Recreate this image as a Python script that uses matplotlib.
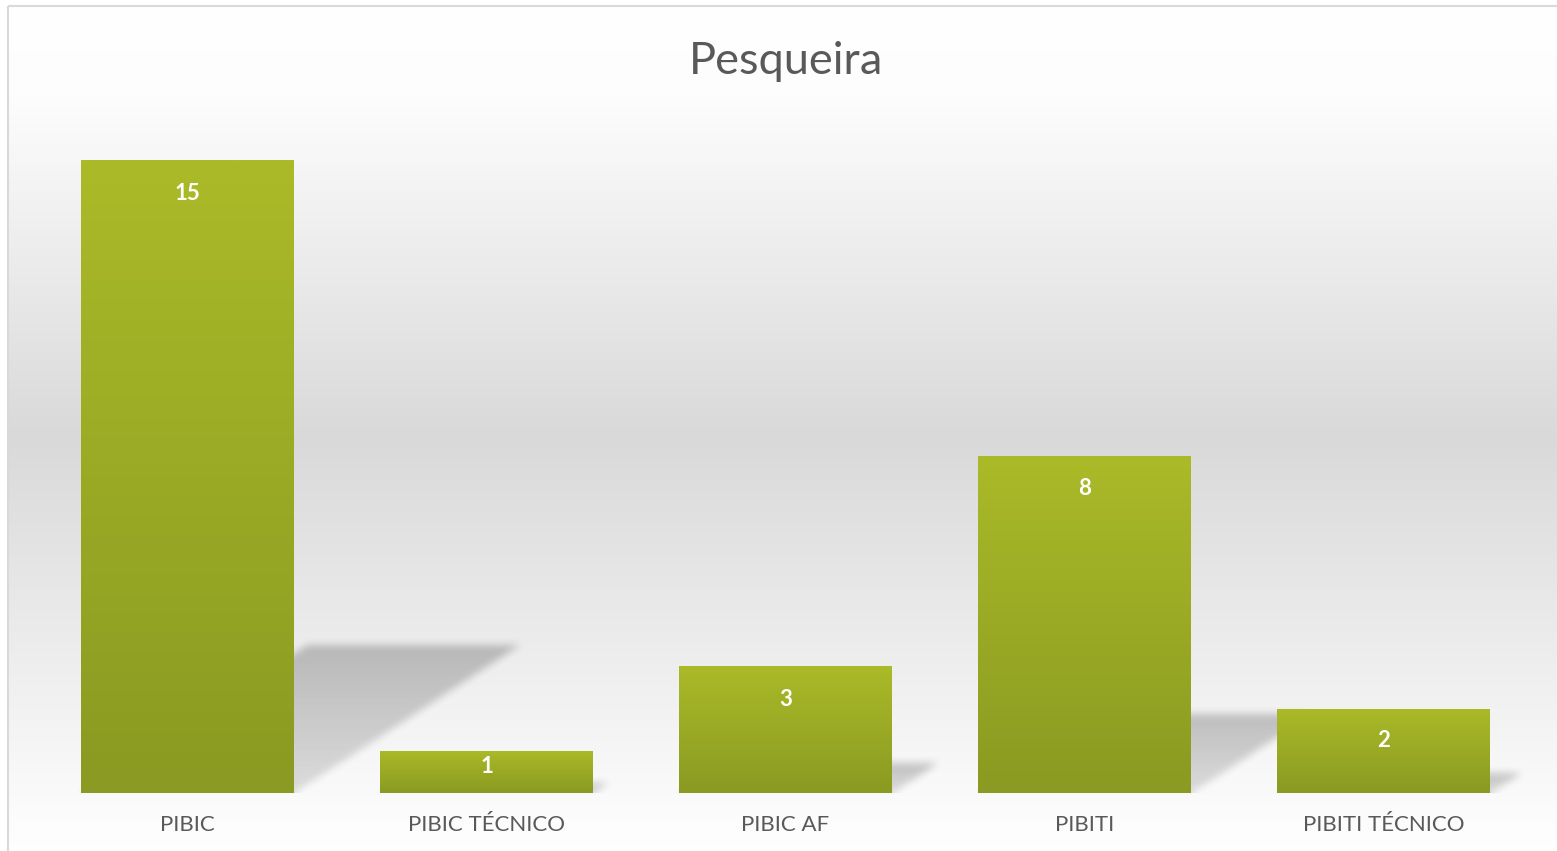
import numpy as np
import matplotlib
matplotlib.use("Agg")
import matplotlib.pyplot as plt
from matplotlib.colors import to_rgb
from matplotlib.patches import Rectangle

# ------------------------------------------------------------
# data
# ------------------------------------------------------------
categories = ["PIBIC", "PIBIC TÉCNICO", "PIBIC AF", "PIBITI", "PIBITI TÉCNICO"]
values = [15, 1, 3, 8, 2]
title = "Pesqueira"

W_PX, H_PX, DPI = 1557, 851, 100
plt.rcParams["font.family"] = ["Lato", "DejaVu Sans"]


def vgrad(stops_px, colors, n=H_PX):
    """vertical gradient image (n x 1 x 3), row 0 = top of figure"""
    yy = np.arange(n)
    rgb = np.array([to_rgb(c) for c in colors])
    img = np.stack([np.interp(yy, stops_px, rgb[:, k]) for k in range(3)], axis=-1)
    return img[:, None, :]


def box_blur(a, r):
    # separable box blur, run twice (close to gaussian)
    for _ in range(2):
        for ax_ in (0, 1):
            pad = [(0, 0), (0, 0)]
            pad[ax_] = (r + 1, r)
            c = np.cumsum(np.pad(a, pad, mode="edge"), axis=ax_)
            if ax_ == 0:
                a = (c[2 * r + 1:, :] - c[:-2 * r - 1, :]) / (2 * r + 1)
            else:
                a = (c[:, 2 * r + 1:] - c[:, :-2 * r - 1]) / (2 * r + 1)
    return a


fig = plt.figure(figsize=(W_PX / DPI, H_PX / DPI), dpi=DPI)
fig.patch.set_facecolor("white")

# ---- chart area background (gradient) + frame ----
bg = fig.add_axes([0, 0, 1, 1], zorder=-10)
bg.set_xlim(0, W_PX)
bg.set_ylim(H_PX, 0)
bg.axis("off")
bg_img = vgrad([0, 90, 430, 800, 851],
               ["#ffffff", "#fdfdfd", "#d9d9d9", "#fbfbfb", "#ffffff"])
bg.imshow(bg_img, extent=(8, W_PX + 5, H_PX + 5, 6), aspect="auto", zorder=0)
bg.add_patch(Rectangle((8, 6), W_PX, H_PX, fill=False, ec="#d9d9d9", lw=1.5, zorder=1))
bg.set_xlim(0, W_PX)
bg.set_ylim(H_PX, 0)

# ---- main axes ----
ax_l, ax_r, ax_b, ax_t = 38, 1533, 793, 118
ax = fig.add_axes([ax_l / W_PX, (H_PX - ax_b) / H_PX,
                   (ax_r - ax_l) / W_PX, (ax_b - ax_t) / H_PX])
ax.patch.set_alpha(0)
x = np.arange(len(categories))
ymax = 16
bw = 0.712

# ---- perspective shadows (rasterised in data space, blurred) ----
nx, ny = ax_r - ax_l, ax_b - ax_t
gx = -0.5 + (np.arange(nx) + 0.5) / nx * len(categories)
gy = ymax - (np.arange(ny) + 0.5) / ny * ymax
GX, GY = np.meshgrid(gx, gy)
mask = np.zeros((ny, nx))
for xi, v in zip(x, values):
    hs = 0.234 * v
    dx = 0.0504 * v
    t = GY / hs
    inside = (GY >= 0) & (GY <= hs) & (GX >= xi - bw / 2 + dx * t) & (GX <= xi + bw / 2 + dx * t)
    a = np.where(inside, 0.12 + 0.10 * np.clip(t, 0, 1), 0.0)
    mask = np.maximum(mask, a)
mask = box_blur(mask, 4)
shadow = np.zeros((ny, nx, 4))
shadow[..., 3] = mask
ax.imshow(shadow, extent=(-0.5, len(categories) - 0.5, 0, ymax), aspect="auto",
          zorder=1, interpolation="bilinear")

# ---- bars with vertical gradient ----
bars = ax.bar(x, values, width=bw, color="#9aaa26", zorder=2)
bar_grad = vgrad([0, 99], ["#aaba28", "#8a9a22"], n=100)
for b in bars:
    im = ax.imshow(bar_grad, extent=(b.get_x(), b.get_x() + b.get_width(), 0, b.get_height()),
                   aspect="auto", zorder=3, interpolation="bilinear")
    im.set_clip_path(b)

ax.set_xlim(-0.5, len(categories) - 0.5)
ax.set_ylim(0, ymax)

# ---- data labels ----
px_per_unit = ax.bbox.height / ymax
for xi, v in zip(x, values):
    off = min(33, 0.38 * v * px_per_unit)
    ax.annotate(str(v), (xi, v), xytext=(0, -off), textcoords="offset pixels",
                ha="center", va="center", color="white", fontsize=16,
                fontweight="bold", zorder=5)

# ---- axes cosmetics ----
for s in ax.spines.values():
    s.set_visible(False)
ax.set_yticks([])
ax.set_xticks(x)
ax.set_xticklabels(categories, fontsize=16, color="#595959")
ax.tick_params(axis="x", length=0, pad=15.5)

fig.text(786 / W_PX, (H_PX - 74) / H_PX, title, ha="center", va="baseline",
         fontsize=32.5, color="#595959")

fig.savefig("out.png", dpi=DPI)
